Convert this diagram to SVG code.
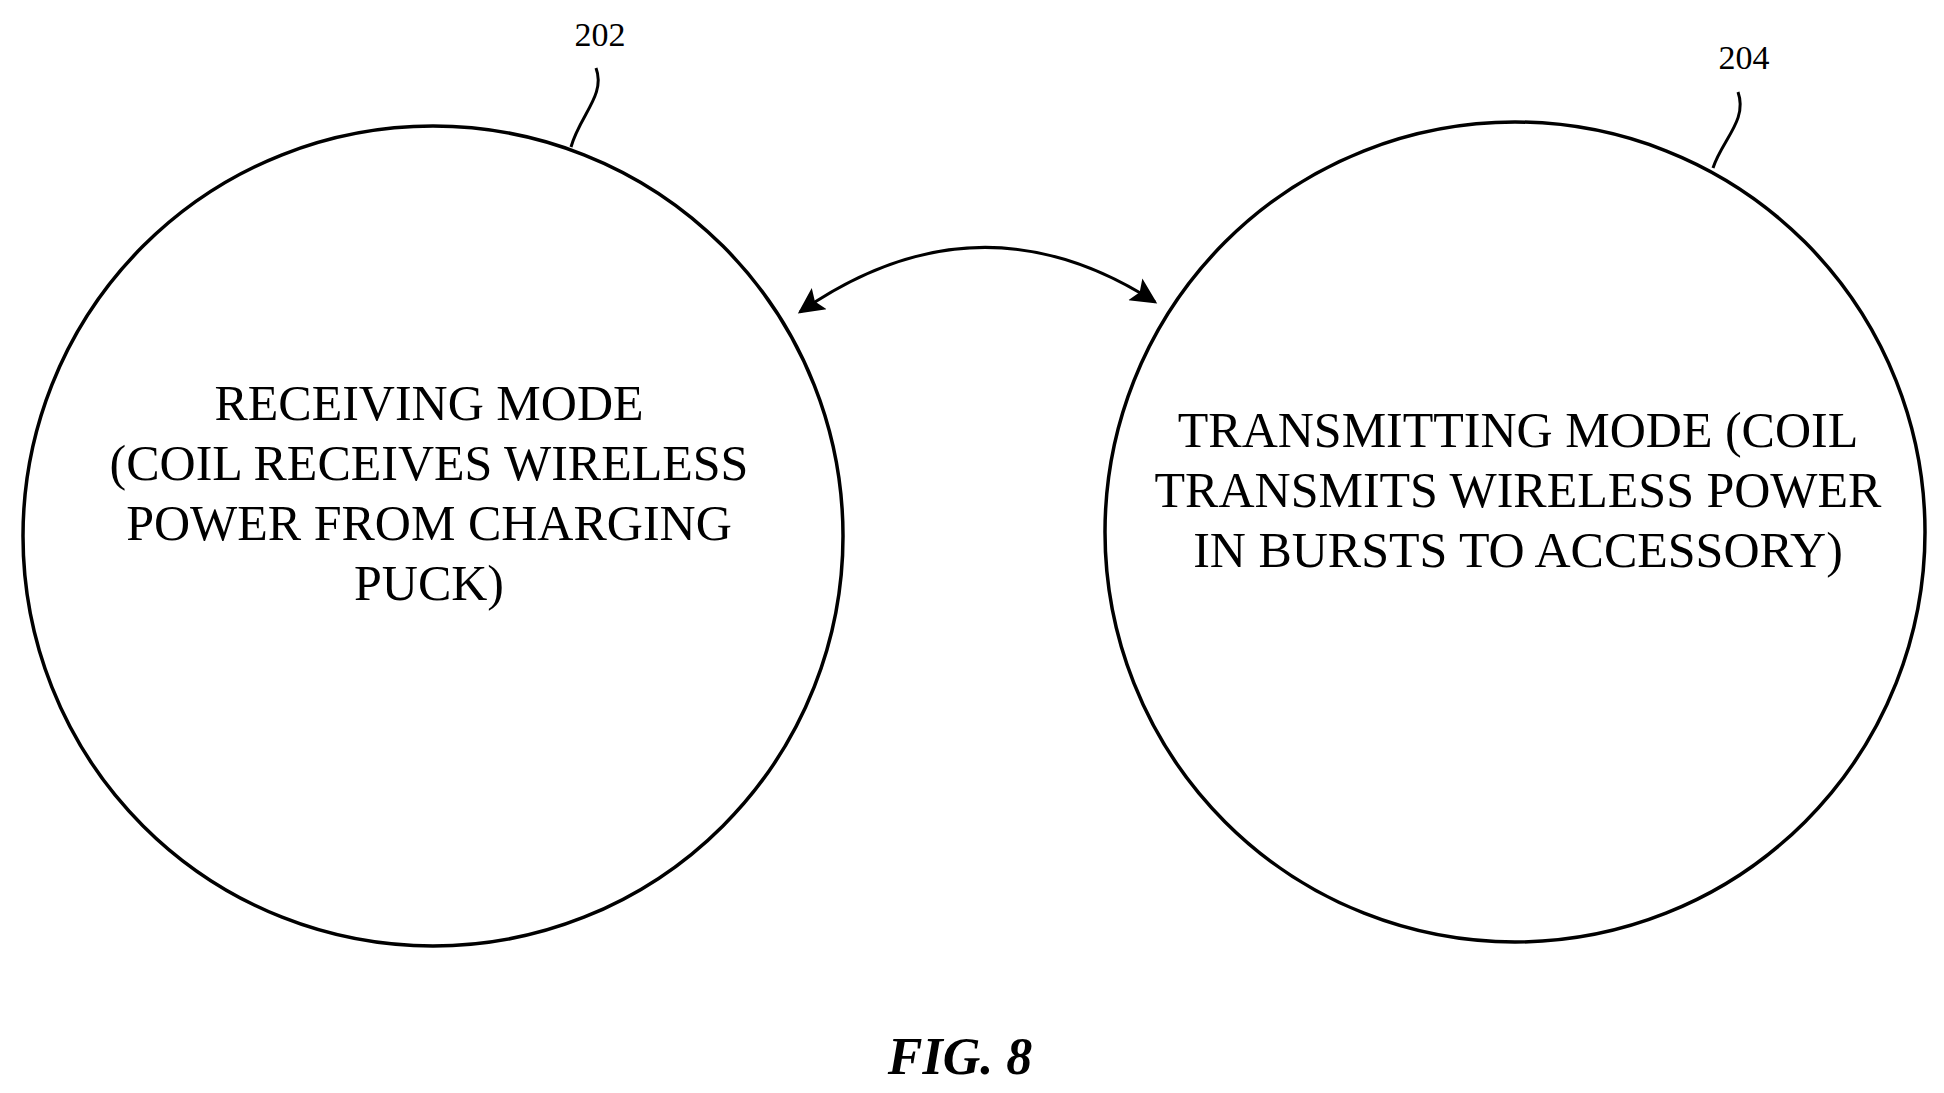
<svg xmlns="http://www.w3.org/2000/svg" width="1944" height="1093" viewBox="0 0 1944 1093">
<style>
.n{fill:none;stroke:#000;stroke-width:3.5}
.t{font-family:"Liberation Serif",serif;font-size:50px;text-anchor:middle}
.r{font-family:"Liberation Serif",serif;font-size:34px;text-anchor:middle}
.l{fill:none;stroke:#000;stroke-width:3}
</style>
<defs>
<marker id="b" viewBox="0 0 10 10" refX="9" refY="5" markerWidth="30" markerHeight="26" orient="auto-start-reverse" markerUnits="userSpaceOnUse"><path d="M0,0 L10,5 L0,10 L2,5 z"/></marker></defs>
<g id="n202">
<circle class="n" cx="433" cy="536" r="410"/>
<text class="t"><tspan x="429" y="420">RECEIVING MODE</tspan><tspan x="429" y="480">(COIL RECEIVES WIRELESS</tspan><tspan x="429" y="540">POWER FROM CHARGING</tspan><tspan x="429" y="600">PUCK)</tspan></text>
<text class="r" x="600" y="46">202</text>
<path class="l" d="M596,68 C606,95 580,115 571,147"/>
</g>
<g id="n204">
<circle class="n" cx="1515" cy="532" r="410"/>
<text class="t"><tspan x="1518" y="447">TRANSMITTING MODE (COIL</tspan><tspan x="1518" y="507">TRANSMITS WIRELESS POWER</tspan><tspan x="1518" y="567">IN BURSTS TO ACCESSORY)</tspan></text>
<text class="r" x="1744" y="69">204</text>
<path class="l" d="M1738,92 C1748,120 1722,140 1713,168"/>
</g>
<g id="connectors">
<path class="l" d="M800,312 Q978,188 1155,302" marker-start="url(#b)" marker-end="url(#b)"/>
</g>
<text x="960" y="1074" style="font-family:'Liberation Serif',serif;font-size:52px;font-weight:bold;font-style:italic;text-anchor:middle">FIG. 8</text>
</svg>
